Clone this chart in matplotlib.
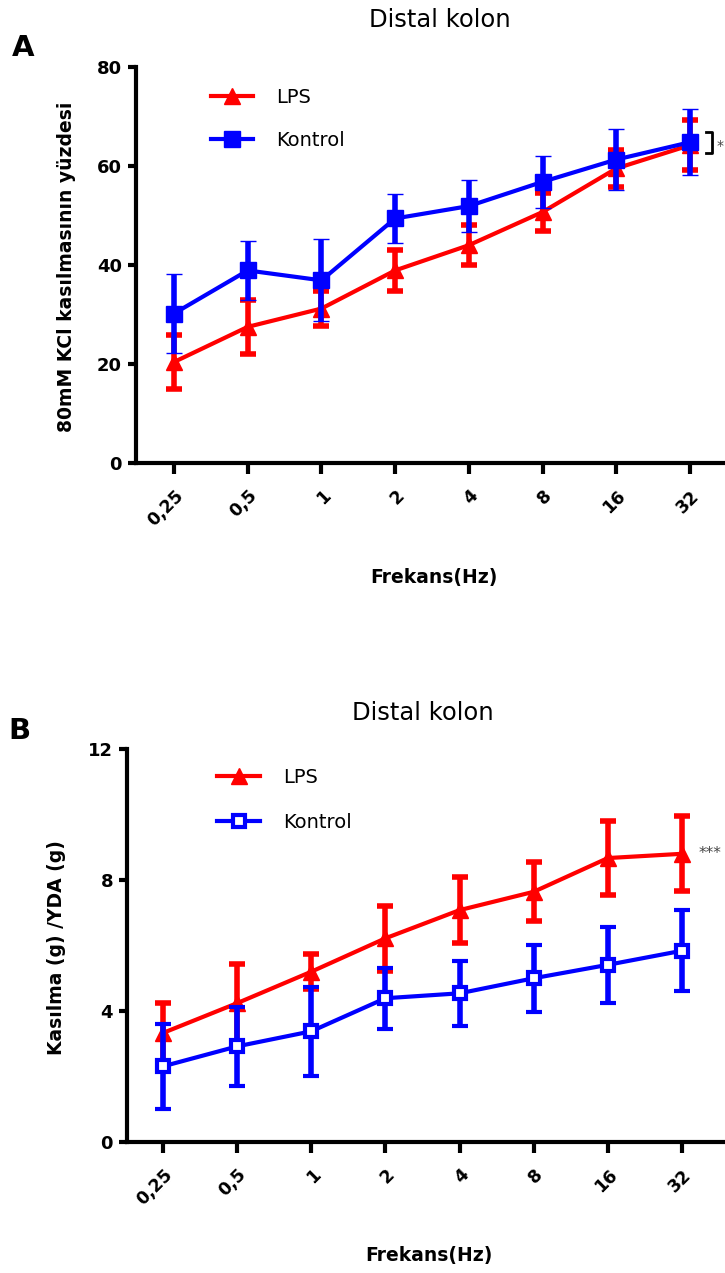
import matplotlib
matplotlib.use("Agg")
import matplotlib.pyplot as plt
from matplotlib.lines import Line2D
from matplotlib.transforms import ScaledTranslation

plt.rcParams['font.family'] = ['DejaVu Sans']

# frequencies (categorical x axis)
freqs = ["0,25", "0,5", "1", "2", "4", "8", "16", "32"]

# panel A: % of 80mM KCl contraction
lps_a = [20.4, 27.5, 31.2, 38.9, 44.0, 50.7, 59.5, 64.2]
lps_a_err = [5.4, 5.5, 3.5, 4.1, 4.0, 3.9, 3.7, 5.0]
kon_a = [30.2, 38.9, 36.9, 49.4, 51.9, 56.8, 61.3, 64.8]
kon_a_err = [8.0, 6.0, 8.3, 5.0, 5.2, 5.3, 6.2, 6.7]

# panel B: contraction (g) / wet weight (g)
lps_b = [3.33, 4.24, 5.20, 6.22, 7.08, 7.64, 8.67, 8.80]
lps_b_err = [0.92, 1.2, 0.53, 1.0, 1.0, 0.9, 1.13, 1.15]
kon_b = [2.31, 2.92, 3.38, 4.39, 4.54, 5.00, 5.41, 5.84]
kon_b_err = [1.3, 1.2, 1.36, 0.93, 1.0, 1.02, 1.17, 1.23]

RED = "#ff0000"
BLUE = "#0000ff"

fig = plt.figure(figsize=(7.25, 12.73), dpi=100)


def panel(rect, lps, lps_err, kon, kon_err, yticks, ylabel, xlim, open_sq,
          leg_anchor, leg_spacing, letter, letter_xy, title_xy):
    ax = fig.add_axes(rect)
    x = list(range(len(freqs)))
    ms_sq = 9 if open_sq else 11
    mfc = "white" if open_sq else BLUE
    mew = 3 if open_sq else 1
    ax.errorbar(x, lps, yerr=lps_err, color=RED, lw=3, marker="^", ms=12,
                capsize=6, capthick=4, elinewidth=4, zorder=3, clip_on=False)
    ax.errorbar(x, kon, yerr=kon_err, color=BLUE, lw=3, marker="s", ms=ms_sq,
                mfc=mfc, mew=mew, capsize=6, capthick=4, elinewidth=4,
                zorder=4, clip_on=False)
    ax.set_xlim(*xlim)
    ax.set_ylim(yticks[0], yticks[-1])
    ax.set_yticks(yticks)
    ax.set_xticks(x)
    ax.set_xticklabels(freqs, rotation=45, ha="right", va="top",
                       rotation_mode="anchor", fontsize=12.5, fontweight="bold")
    shift = ScaledTranslation(10 / 100, 0, fig.dpi_scale_trans)
    for lab in ax.get_xticklabels():
        lab.set_transform(lab.get_transform() + shift)
    for lab in ax.get_yticklabels():
        lab.set_fontsize(13)
        lab.set_fontweight("bold")
    for s in ["top", "right"]:
        ax.spines[s].set_visible(False)
    for s in ["left", "bottom"]:
        ax.spines[s].set_linewidth(3)
    ax.tick_params(axis="x", length=8, width=3, pad=9)
    ax.tick_params(axis="y", length=6, width=3, pad=4)

    ax.set_ylabel(ylabel, fontsize=13.5, fontweight="bold")
    ax.yaxis.set_label_coords(-0.102, 0.495)
    ax.set_xlabel("Frekans(Hz)", fontsize=13.5, fontweight="bold", va="top")
    ax.xaxis.set_label_coords(0.505, -0.265)

    handles = [
        Line2D([], [], color=RED, lw=3, marker="^", ms=12),
        Line2D([], [], color=BLUE, lw=3, marker="s", ms=ms_sq, mfc=mfc, mew=mew),
    ]
    ax.legend(handles, ["LPS", "Kontrol"], loc="upper left",
              bbox_to_anchor=leg_anchor, frameon=False, fontsize=14,
              handlelength=2.2, handletextpad=1.2, labelspacing=leg_spacing,
              borderpad=0)

    fig.text(letter_xy[0], letter_xy[1], letter, fontsize=21, fontweight="bold",
             ha="left", va="center")
    fig.text(title_xy[0], title_xy[1], "Distal kolon", fontsize=17.5,
             ha="center", va="center")
    return ax


ax_a = panel([136 / 725, 1 - 463 / 1273, 589 / 725, 396 / 1273],
             lps_a, lps_a_err, kon_a, kon_a_err, [0, 20, 40, 60, 80],
             "80mM KCl kasılmasının yüzdesi", (-0.516, 7.476), False,
             (0.11, 0.972), 1.25,
             "A", (12 / 725, 1 - 48 / 1273), (440 / 725, 1 - 20 / 1273))
# significance bracket
ax_a.plot([7.22, 7.3, 7.3, 7.22], [66.9, 66.9, 62.6, 62.6], color="black", lw=2,
          clip_on=False)
ax_a.text(7.36, 64.0, "*", fontsize=10, color="#444444", ha="left", va="center")

ax_b = panel([127 / 725, 1 - 1142 / 1273, 598 / 725, 393 / 1273],
             lps_b, lps_b_err, kon_b, kon_b_err, [0, 4, 8, 12],
             "Kasılma (g) /YDA (g)", (-0.486, 7.58), True,
             (0.135, 0.977), 1.35,
             "B", (8 / 725, 1 - 731 / 1273), (423 / 725, 1 - 713 / 1273))
ax_b.text(7.22, 8.8, "***", fontsize=11, color="#444444", ha="left", va="center")

fig.savefig("out.png", dpi=100)
